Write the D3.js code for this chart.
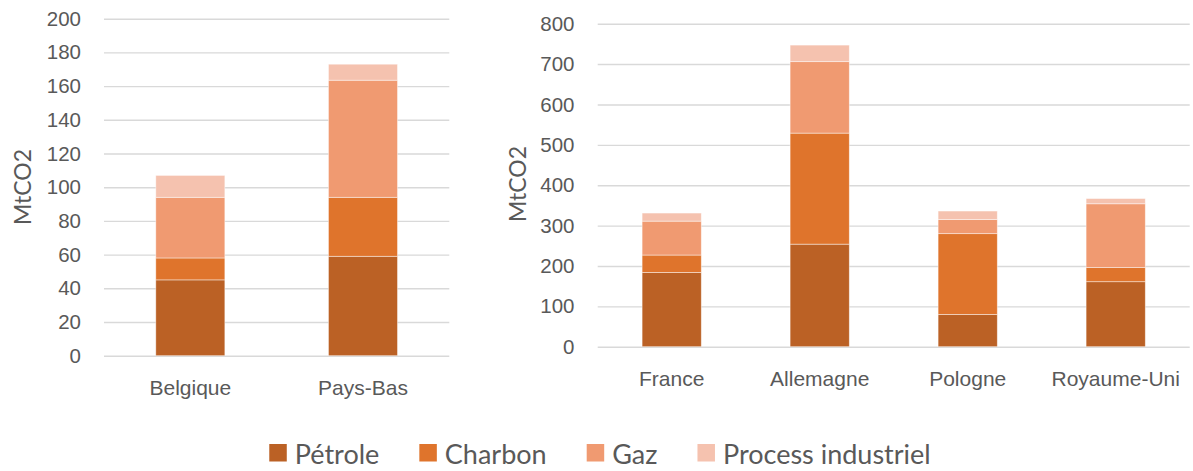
<!DOCTYPE html>
<html>
<head>
<meta charset="utf-8">
<script src="https://cdn.jsdelivr.net/npm/d3@7"></script>
<style>
  html, body { margin: 0; padding: 0; background: #fff; }
  svg { display: block; font-family: Lato, "Open Sans", sans-serif; }
  .tick text { fill: #595959; }
</style>
</head>
<body>
<svg id="chart" width="1193" height="471"></svg>
<script>
// Emissions de CO2 par source (MtCO2)
const series = ["Pétrole", "Charbon", "Gaz", "Process industriel"];
const colors = ["#BB6125", "#DF742C", "#F09A71", "#F5C2AF"];

// Petits pays
const smallCountries = ["Belgique", "Pays-Bas"];
const smallPetrole = [45, 59];
const smallCharbon = [13, 35];
const smallGaz = [36, 69.5];
const smallProcess = [13, 9.5];
const smallTicks = [0, 20, 40, 60, 80, 100, 120, 140, 160, 180, 200];

// Grands pays
const bigCountries = ["France", "Allemagne", "Pologne", "Royaume-Uni"];
const bigPetrole = [184, 254, 80, 161];
const bigCharbon = [43, 275, 200, 35];
const bigGaz = [84, 177, 35, 158];
const bigProcess = [20, 41, 21, 13];
const bigTicks = [0, 100, 200, 300, 400, 500, 600, 700, 800];

const svg = d3.select("#chart");
const textColor = "#595959";

function rows(cats, a, b, c, d) {
  return cats.map((k, i) => ({
    cat: k,
    "Pétrole": a[i], "Charbon": b[i], "Gaz": c[i], "Process industriel": d[i]
  }));
}

function panel(opts) {
  const { cats, data, ticks, xRange, yRange, labelX, titleX, titleY } = opts;
  const g = svg.append("g");

  const x = d3.scaleBand().domain(cats).range(xRange)
    .paddingInner(0.6).paddingOuter(0.3);
  const y = d3.scaleLinear().domain([ticks[0], ticks[ticks.length - 1]]).range(yRange);

  // axe vertical + quadrillage
  const yAxis = d3.axisLeft(y).tickValues(ticks)
    .tickSize(-(xRange[1] - xRange[0])).tickPadding(xRange[0] - labelX);
  const ga = g.append("g").attr("transform", `translate(${xRange[0]},0)`).call(yAxis);
  ga.select(".domain").remove();
  ga.selectAll(".tick line").attr("stroke", "#d9d9d9").attr("stroke-width", 1.4);
  ga.selectAll(".tick text").attr("font-size", 20.5).attr("fill", textColor);

  // barres empilées
  const stack = d3.stack().keys(series)(data);
  g.append("g").selectAll("g").data(stack).join("g")
    .attr("fill", (d, i) => colors[i])
    .selectAll("rect").data(d => d).join("rect")
    .attr("x", d => x(d.data.cat))
    .attr("width", x.bandwidth())
    .attr("y", d => y(d[1]))
    .attr("height", d => y(d[0]) - y(d[1]))
    .attr("stroke", "rgba(255,255,255,0.55)")
    .attr("stroke-width", 0.8);

  // axe horizontal (libellés seulement)
  const xAxis = d3.axisBottom(x).tickSize(0).tickPadding(24);
  const gx = g.append("g").attr("transform", `translate(0,${yRange[0]})`).call(xAxis);
  gx.select(".domain").remove();
  gx.selectAll(".tick text").attr("font-size", 21).attr("fill", textColor);

  // titre de l'axe
  g.append("text")
    .attr("transform", `translate(${titleX},${titleY}) rotate(-90)`)
    .attr("text-anchor", "middle")
    .attr("dominant-baseline", "central")
    .attr("font-size", 23)
    .attr("fill", textColor)
    .text("MtCO2");
}

panel({
  cats: smallCountries,
  data: rows(smallCountries, smallPetrole, smallCharbon, smallGaz, smallProcess),
  ticks: smallTicks,
  xRange: [104, 449.3], yRange: [355.7, 18.7],
  labelX: 81, titleX: 22, titleY: 187
});

panel({
  cats: bigCountries,
  data: rows(bigCountries, bigPetrole, bigCharbon, bigGaz, bigProcess),
  ticks: bigTicks,
  xRange: [597.7, 1189.7], yRange: [346.7, 23.7],
  labelX: 574.5, titleX: 517, titleY: 184
});

// légende
const legend = svg.append("g");
const sq = 17.5, gapText = 8, gapItem = 40;
const items = legend.selectAll("g").data(series).join("g");
items.append("rect")
  .attr("y", 444).attr("width", sq).attr("height", sq)
  .attr("fill", (d, i) => colors[i]);
items.append("text")
  .attr("x", sq + gapText).attr("y", 463.5)
  .attr("font-size", 27).attr("fill", textColor)
  .text(d => d);
let cx = 0;
const offsets = [];
items.each(function () {
  offsets.push(cx);
  const w = d3.select(this).select("text").node().getComputedTextLength();
  cx += sq + gapText + w + gapItem;
});
const total = cx - gapItem;
const start = 600 - total / 2;
items.attr("transform", (d, i) => `translate(${start + offsets[i]},0)`);
</script>
</body>
</html>
